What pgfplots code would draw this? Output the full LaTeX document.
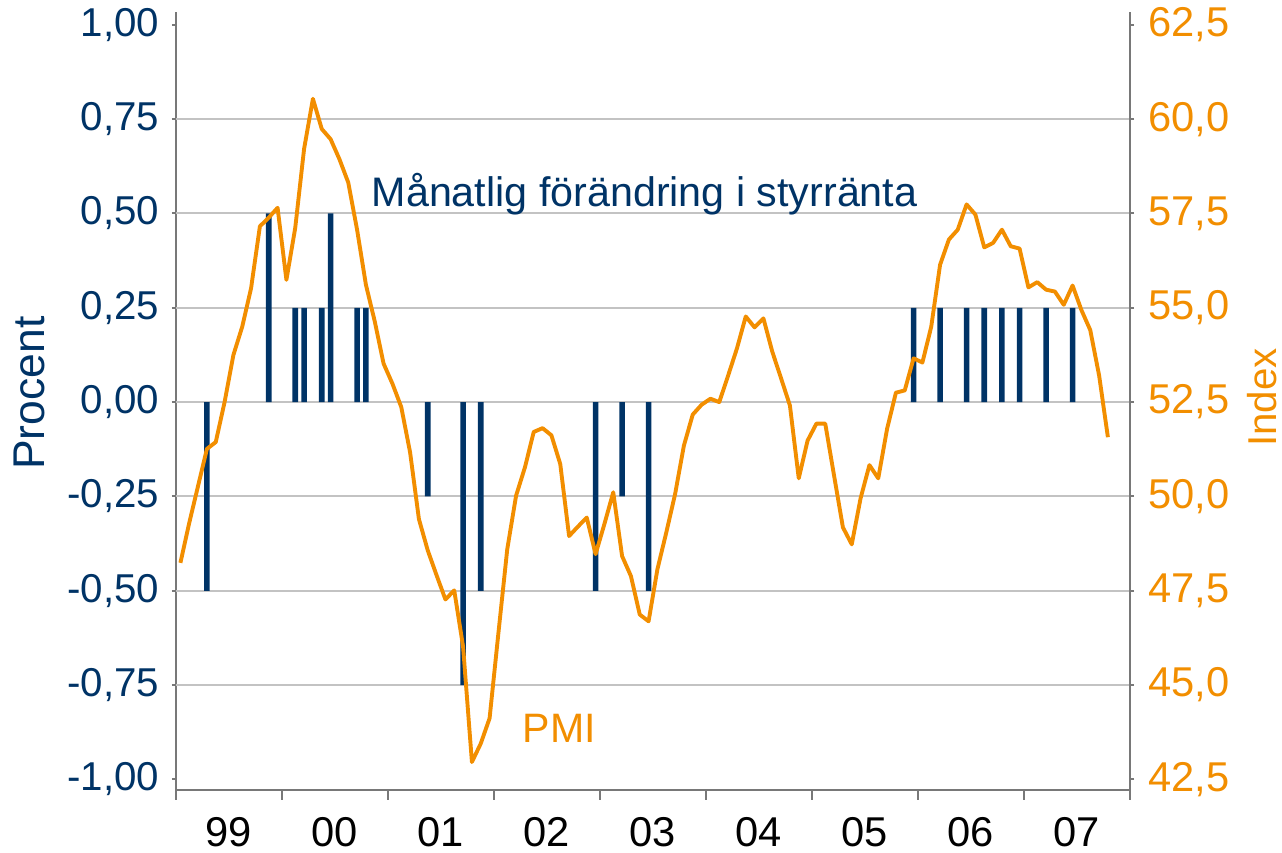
\documentclass[border=0pt]{standalone}
\usepackage{pgfplots}
\pgfplotsset{compat=1.18}
\usepackage{fontspec}
\setmainfont{Liberation Sans}
\definecolor{navy}{RGB}{0,51,102}
\definecolor{pmi}{RGB}{242,142,0}
\definecolor{axgray}{RGB}{120,120,120}
\definecolor{gridgray}{RGB}{195,195,195}

\begin{document}
\fontsize{14.5pt}{17pt}\selectfont
\begin{tikzpicture}
\useasboundingbox (-63.36pt,-22.68pt) rectangle (398.16pt,284.4pt);
% left axis: bars
\begin{axis}[
  scale only axis, width=343.44pt, height=280.08pt,
  at={(0,0)}, anchor=south west,
  xmin=-0.5, xmax=107.5, ymin=-1.028, ymax=1.034,
  axis x line=none, axis y line*=left,
  axis line style={axgray, line width=0.7pt},
  tick align=outside, major tick length=1.5pt,
  tick style={axgray, line width=0.7pt},
  ytick={-1,-0.75,-0.5,-0.25,0,0.25,0.5,0.75,1},
  yticklabels={{-1,00},{-0,75},{-0,50},{-0,25},{0,00},{0,25},{0,50},{0,75},{1,00}},
  yticklabel style={navy, anchor=east, inner sep=0pt, xshift=-4.3pt, font=\fontsize{14.5pt}{17pt}\selectfont},
  extra y ticks={-0.75,-0.5,-0.25,0,0.25,0.5,0.75},
  extra y tick labels={},
  extra y tick style={grid=major, major grid style={gridgray, line width=0.7pt}},
  every axis y label/.style={at={(axis description cs:-0.1532,0.51)}, anchor=center, rotate=90, navy, font=\fontsize{16pt}{19pt}\selectfont},
  ylabel={Procent},
  clip=false,
]
\addplot[ybar, bar width=2pt, fill=navy, draw=none] coordinates {
(3,-0.5) (10,0.5) (13,0.25) (14,0.25) (16,0.25) (17,0.5) (20,0.25) (21,0.25)
(28,-0.25) (32,-0.75) (34,-0.5) (47,-0.5) (50,-0.25) (53,-0.5)
(83,0.25) (86,0.25) (89,0.25) (91,0.25) (93,0.25) (95,0.25) (98,0.25) (101,0.25)
};
\node[navy, anchor=base west, inner sep=0pt, font=\fontsize{14.85pt}{18pt}\selectfont] at (axis cs:21.6,0.519) {Månatlig förändring i styrränta};
\node[pmi, anchor=base west, inner sep=0pt, font=\fontsize{14.8pt}{18pt}\selectfont] at (axis cs:38.7,-0.902) {PMI};
\end{axis}
% x axis
\begin{axis}[
  scale only axis, width=343.44pt, height=280.08pt,
  at={(0,0)}, anchor=south west,
  xmin=-0.5, xmax=107.5, ymin=-1.028, ymax=1.034,
  axis y line=none, axis x line*=bottom,
  axis line style={axgray, line width=0.7pt},
  tick align=outside, major tick length=3.6pt,
  tick style={axgray, line width=0.7pt},
  xtick={-0.5,11.5,23.5,35.5,47.5,59.5,71.5,83.5,95.5,107.5},
  xticklabels={},
  extra x ticks={5.5,17.5,29.5,41.5,53.5,65.5,77.5,89.5,101.5},
  extra x tick labels={99,00,01,02,03,04,05,06,07},
  extra x tick style={tick style={draw=none}},
  xticklabel style={black, anchor=north, inner sep=0pt, yshift=-6.1pt, font=\fontsize{15pt}{18pt}\selectfont},
]
\end{axis}
% right axis: PMI
\begin{axis}[
  scale only axis, width=343.44pt, height=280.08pt,
  at={(0,0)}, anchor=south west,
  xmin=-0.5, xmax=107.5, ymin=42.22, ymax=62.84,
  axis x line=none, axis y line*=right,
  axis line style={axgray, line width=0.7pt},
  tick align=outside, major tick length=1.5pt,
  tick style={axgray, line width=0.7pt},
  ytick={42.5,45,47.5,50,52.5,55,57.5,60,62.5},
  yticklabels={{42,5},{45,0},{47,5},{50,0},{52,5},{55,0},{57,5},{60,0},{62,5}},
  yticklabel style={pmi, anchor=west, inner sep=0pt, xshift=5.0pt, font=\fontsize{15pt}{18pt}\selectfont},
  every axis y label/.style={at={(axis description cs:1.1384,0.5045)}, anchor=center, rotate=90, pmi, font=\fontsize{14.5pt}{17pt}\selectfont},
  ylabel={Index},
]
\addplot[pmi, line width=1.4pt, line join=round, mark=none] coordinates {
(0,48.24) (1,49.3) (2,50.28) (3,51.26) (4,51.44) (5,52.5) (6,53.75) (7,54.5)
(8,55.52) (9,57.16) (10,57.39) (11,57.65) (12,55.74) (13,57.12) (14,59.21) (15,60.54)
(16,59.74) (17,59.47) (18,58.94) (19,58.32) (20,57.07) (21,55.61) (22,54.64) (23,53.52)
(24,52.99) (25,52.37) (26,51.17) (27,49.4) (28,48.57) (29,47.91) (30,47.27) (31,47.51)
(32,46.02) (33,42.96) (34,43.45) (35,44.12) (36,46.38) (37,48.6) (38,50.02) (39,50.77)
(40,51.71) (41,51.81) (42,51.62) (43,50.86) (44,48.95) (45,49.2) (46,49.44) (47,48.47)
(48,49.27) (49,50.11) (50,48.42) (51,47.89) (52,46.87) (53,46.69) (54,48.07) (55,49.04)
(56,50.06) (57,51.35) (58,52.17) (59,52.43) (60,52.59) (61,52.5) (62,53.2) (63,53.92)
(64,54.77) (65,54.48) (66,54.72) (67,53.84) (68,53.13) (69,52.41) (70,50.48) (71,51.48)
(72,51.93) (73,51.93) (74,50.55) (75,49.18) (76,48.73) (77,49.95) (78,50.83) (79,50.48)
(80,51.79) (81,52.75) (82,52.81) (83,53.66) (84,53.55) (85,54.5) (86,56.14) (87,56.81)
(88,57.07) (89,57.74) (90,57.47) (91,56.6) (92,56.72) (93,57.07) (94,56.63) (95,56.57)
(96,55.54) (97,55.68) (98,55.48) (99,55.43) (100,55.08) (101,55.59) (102,54.94) (103,54.41)
(104,53.21) (105,51.57)
};
\end{axis}
\end{tikzpicture}
\end{document}
